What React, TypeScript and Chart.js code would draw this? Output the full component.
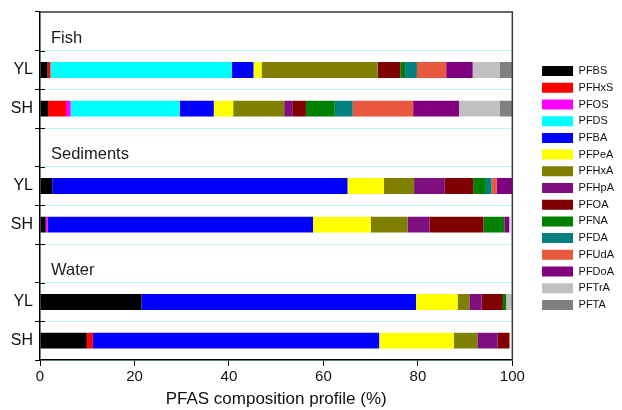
import React, { useEffect, useRef } from 'react';
import { Chart, registerables } from 'chart.js';

Chart.register(...registerables);

// Groups and sites
const groups = ['Fish', 'Sediments', 'Water'];
const sites = ['YL', 'SH'];
// y categories: one header slot per group, then its sites
const categories = ['', 'YL', 'SH', '', 'YL', 'SH', '', 'YL', 'SH'];
const xTicks = [0, 20, 40, 60, 80, 100];

// Composition (%) per compound: [Fish YL, Fish SH, Sed YL, Sed SH, Water YL, Water SH]
const PFBS = [1.6, 1.7, 2.6, 1.2, 21.5, 9.9];
const PFHxS = [0.6, 3.8, 0, 0, 0, 1.3];
const PFOS = [0, 1.0, 0, 0.4, 0, 0];
const PFDS = [38.4, 23.1, 0, 0, 0, 0];
const PFBA = [4.6, 7.2, 62.5, 56.2, 58.1, 60.6];
const PFPeA = [1.7, 4.1, 7.7, 12.2, 8.8, 15.8];
const PFHxA = [24.6, 10.8, 6.4, 7.8, 2.5, 5.0];
const PFHpA = [0, 1.7, 6.5, 4.7, 2.6, 4.3];
const PFOA = [4.8, 2.9, 6.0, 11.4, 4.5, 2.5];
const PFNA = [1.0, 6.1, 2.7, 4.4, 0.7, 0];
const PFDA = [2.5, 3.8, 1.2, 0, 0, 0];
const PFUdA = [6.2, 12.8, 1.1, 0, 0, 0];
const PFDoA = [5.6, 9.7, 3.3, 1.0, 0, 0];
const PFTrA = [5.7, 8.6, 0, 0.3, 1.3, 0];
const PFTA = [2.7, 2.7, 0, 0, 0, 0];

const compounds = ['PFBS', 'PFHxS', 'PFOS', 'PFDS', 'PFBA', 'PFPeA', 'PFHxA', 'PFHpA', 'PFOA', 'PFNA', 'PFDA', 'PFUdA', 'PFDoA', 'PFTrA', 'PFTA'];
const seriesValues = [PFBS, PFHxS, PFOS, PFDS, PFBA, PFPeA, PFHxA, PFHpA, PFOA, PFNA, PFDA, PFUdA, PFDoA, PFTrA, PFTA];
const colors = ['#000000', '#ff0000', '#ff00ff', '#00ffff', '#0000ff', '#ffff00', '#808000', '#7f0f80', '#800000', '#008000', '#008080', '#ea583f', '#800080', '#c0c0c0', '#808080'];

const FONT = "'Liberation Sans', Arial, sans-serif";

function toSlots(v: number[]): (number | null)[] {
  const out: (number | null)[] = [];
  let k = 0;
  groups.forEach(() => {
    out.push(null);
    sites.forEach(() => {
      const val = v[k++];
      out.push(val > 0 ? val : null);
    });
  });
  return out;
}

const extrasPlugin = {
  id: 'extras',
  afterLayout(chart: any) {
    const lg = chart.legend;
    if (!lg) return;
    const shift = 24;
    lg.left += shift;
    lg.right += shift;
    lg.top = chart.chartArea.top;
    lg.bottom = chart.chartArea.bottom + 4;
    lg.height = lg.bottom - lg.top;
  },
  afterDatasetsDraw(chart: any) {
    const { ctx, chartArea } = chart;
    const yScale = chart.scales.y;
    ctx.save();
    // group headers
    ctx.font = `16.5px ${FONT}`;
    ctx.fillStyle = '#1a1a1a';
    ctx.textBaseline = 'middle';
    ctx.textAlign = 'left';
    let idx = 0;
    groups.forEach((g) => {
      const y = yScale.getPixelForValue(idx);
      ctx.fillText(g, chartArea.left + 11, y + 7);
      idx += sites.length + 1;
    });
    // frame top & right
    ctx.strokeStyle = '#3a3a3a';
    ctx.lineWidth = 1.5;
    ctx.beginPath();
    ctx.moveTo(chartArea.left, chartArea.top);
    ctx.lineTo(chartArea.right, chartArea.top);
    ctx.lineTo(chartArea.right, chartArea.bottom);
    ctx.stroke();
    // inner tick marks on y axis
    ctx.strokeStyle = '#000';
    ctx.lineWidth = 1;
    const step = (chartArea.bottom - chartArea.top) / categories.length;
    for (let i = 1; i < categories.length; i++) {
      const y = Math.round(chartArea.top + i * step) + 0.5;
      ctx.beginPath();
      ctx.moveTo(chartArea.left, y);
      ctx.lineTo(chartArea.left + 5, y);
      ctx.stroke();
    }
    ctx.restore();
  },
};

export default function App() {
  const ref = useRef<HTMLCanvasElement | null>(null);
  useEffect(() => {
    if (!ref.current) return;
    const chart = new Chart(ref.current, {
      type: 'bar',
      data: {
        labels: categories,
        datasets: compounds.map((name, i) => ({
          label: name,
          data: toSlots(seriesValues[i]),
          backgroundColor: colors[i],
          borderWidth: 0,
          categoryPercentage: 1,
          barPercentage: 0.41,
        })),
      },
      options: {
        indexAxis: 'y',
        responsive: false,
        animation: false,
        layout: { padding: { top: 12, right: 22, left: 0, bottom: 0 } },
        plugins: {
          tooltip: { enabled: false },
          legend: {
            position: 'right',
            labels: {
              boxWidth: 31,
              boxHeight: 10,
              padding: 5.7,
              color: '#111',
              font: { family: FONT, size: 11 },
            },
          },
        },
        scales: {
          x: {
            type: 'linear',
            stacked: true,
            min: 0,
            max: 100,
            afterBuildTicks: (s: any) => {
              s.ticks = xTicks.map((v) => ({ value: v }));
            },
            ticks: { color: '#111', font: { family: FONT, size: 15 }, padding: 2 },
            grid: { display: true, drawOnChartArea: false, tickLength: 6, tickColor: '#000' },
            border: { color: '#000', width: 1.5 },
            title: {
              display: true,
              text: 'PFAS composition profile (%)',
              color: '#111',
              font: { family: FONT, size: 17 },
              padding: { top: 2, bottom: 0 },
            },
            afterFit: (s: any) => {
              s.height = 50;
            },
          },
          y: {
            type: 'category',
            stacked: true,
            offset: true,
            grid: { color: '#b9f7f7', offset: true, tickLength: 5, tickColor: '#000' },
            ticks: { color: '#111', font: { family: FONT, size: 16 }, padding: 2 },
            border: { color: '#000', width: 1.5 },
            afterFit: (s: any) => {
              s.width = 40;
            },
          },
        },
      },
      plugins: [extrasPlugin],
    });
    return () => chart.destroy();
  }, []);
  return (
    <div style={{ position: 'fixed', left: 0, top: 0, width: 622, height: 410, background: '#fff' }}>
      <canvas ref={ref} width={622} height={410} />
    </div>
  );
}
